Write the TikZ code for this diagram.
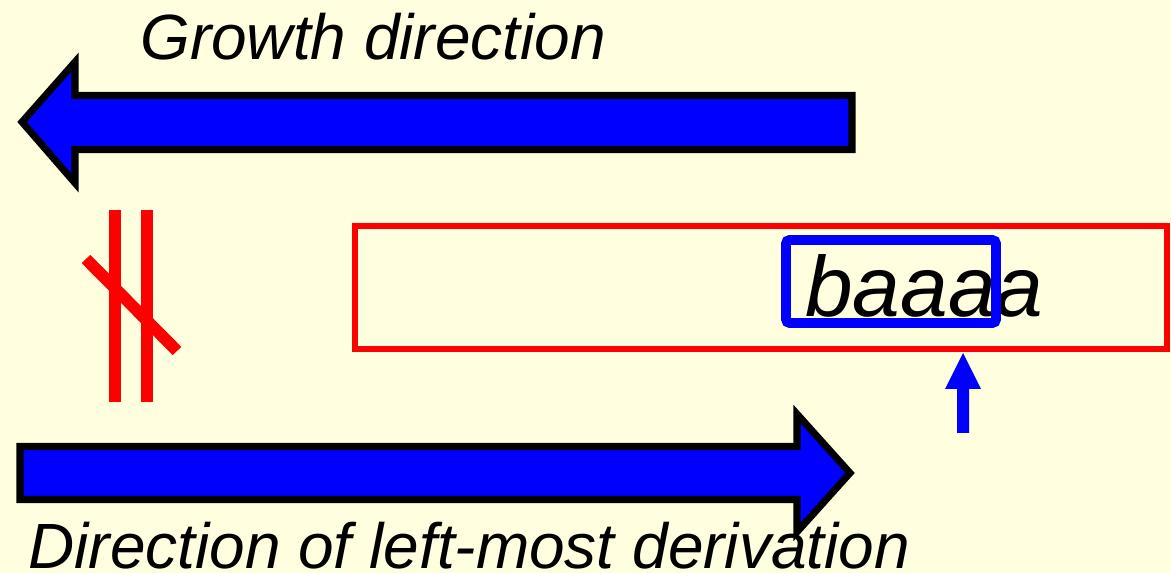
\documentclass[tikz,border=0pt]{standalone}
\usepackage{fontspec}
\setmainfont{Liberation Sans}
\usetikzlibrary{positioning}
\definecolor{paper}{RGB}{255,255,224}

\begin{document}
\begin{tikzpicture}[x=0.02cm, y=-0.02cm,
    bigarrow/.style={draw=black, fill=blue, line width=4pt, line join=miter},
    bar/.style={draw=red, line width=6.8pt},
    label/.style={font=\fontsize{36.4}{42}\selectfont\itshape, inner sep=0pt, anchor=base west},
    word/.style={font=\fontsize{48.7}{56}\selectfont\itshape, inner sep=0pt, anchor=base west}]

  %% ── Background ──────────────────────────────────────────────
  \fill[paper] (0,0) rectangle (1171,573);
  \useasboundingbox (0,0) rectangle (1171,573);

  %% ── Growth direction (top arrow, pointing left) ────────────
  \node[label] (growth) at (140,60) {Growth direction};
  \draw[bigarrow] (22,122) -- (75,62) -- (75,95.5) -- (852,95.5)
    -- (852,149.5) -- (75,149.5) -- (75,183) -- cycle;

  %% ── Not-equal sign ──────────────────────────────────────────
  \draw[bar] (115,210) -- (115,402);
  \draw[bar] (147,210) -- (147,402);
  \draw[bar] (86,259) -- (177,351);

  %% ── Sentential form in red box ──────────────────────────────
  \draw[red, line width=3pt] (355,226) rectangle (1167,349);
  \node[word] (form) at (805,317) {baaaa};
  \draw[blue, line width=5.5pt, rounded corners=2pt] (786,240) rectangle (996,323);

  %% ── Pointer under the handle ────────────────────────────────
  \coordinate (tip) at (963,353);
  \fill[blue] (tip) -- (981,389) -- (969,389) -- (969,433)
    -- (957,433) -- (957,389) -- (945,389) -- cycle;

  %% ── Left-most derivation (bottom arrow, pointing right) ─────
  \draw[bigarrow] (20,446.5) -- (797,446.5) -- (797,414) -- (850,473)
    -- (797,532) -- (797,499.5) -- (20,499.5) -- cycle;
  \node[label] (derive) at (28,569) {Direction of left-most derivation};

\end{tikzpicture}
\end{document}
